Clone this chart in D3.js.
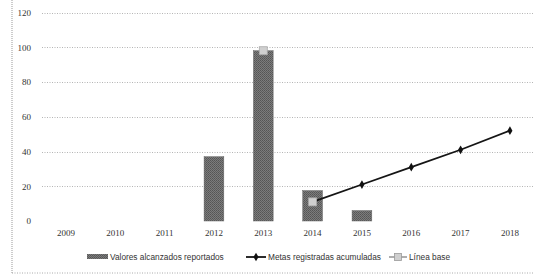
<!DOCTYPE html>
<html>
<head>
<meta charset="utf-8">
<script src="https://cdn.jsdelivr.net/npm/d3@7"></script>
<style>
  body { margin: 0; background: #fff; }
  svg { display: block; }
  .tick-label { font-family: "Liberation Serif", "DejaVu Serif", serif; font-size: 9px; fill: #333; }
  .legend-label { font-family: "Liberation Sans", Arial, sans-serif; font-size: 8.3px; fill: #333; }
</style>
</head>
<body>
<div id="chart"></div>
<script>
// data
var years = ["2009", "2010", "2011", "2012", "2013", "2014", "2015", "2016", "2017", "2018"];
var valoresAlcanzados = [null, null, null, 37, 98, 17.5, 6, null, null, null];
var metasAcumuladas = [null, null, null, null, null, 11, 21, 31, 41, 52];
var lineaBase = [null, null, null, null, 98, 11, null, null, null, null];
var yTicks = [0, 20, 40, 60, 80, 100, 120];
var legendLabels = ["Valores alcanzados reportados", "Metas registradas acumuladas", "Línea base"];

var width = 534, height = 276;

var svg = d3.select("#chart").append("svg")
    .attr("width", width)
    .attr("height", height);

// dithered fill like the scanned bars
var defs = svg.append("defs");
var pat = defs.append("pattern")
    .attr("id", "dither")
    .attr("patternUnits", "userSpaceOnUse")
    .attr("width", 2).attr("height", 2);
pat.append("rect").attr("width", 2).attr("height", 2).attr("fill", "#7c7c7c");
pat.append("rect").attr("width", 1).attr("height", 1).attr("fill", "#555");
pat.append("rect").attr("x", 1).attr("y", 1).attr("width", 1).attr("height", 1).attr("fill", "#5e5e5e");

var x = d3.scaleBand()
    .domain(years)
    .range([41.3, 534.6])
    .paddingInner(0.6)
    .paddingOuter(0.3);

var y = d3.scaleLinear()
    .domain([0, 120])
    .range([221, 12.5]);

var cx = function(i){ return x(years[i]) + x.bandwidth() / 2; };

// outer frame (dotted, left + bottom)
svg.append("line")
    .attr("x1", 12).attr("x2", 12).attr("y1", 0).attr("y2", 273)
    .attr("stroke", "#999").attr("stroke-width", 1).attr("stroke-dasharray", "1,1");
svg.append("line")
    .attr("x1", 12).attr("x2", width).attr("y1", 273).attr("y2", 273)
    .attr("stroke", "#aaa").attr("stroke-width", 1).attr("stroke-dasharray", "1,1.5");

// gridlines
var grid = svg.append("g").attr("class", "grid");
grid.selectAll("line").data(yTicks.filter(function(d){ return d > 0; }))
    .enter().append("line")
    .attr("x1", 42).attr("x2", width)
    .attr("y1", function(d){ return Math.round(y(d)) + 0.5; })
    .attr("y2", function(d){ return Math.round(y(d)) + 0.5; })
    .attr("stroke", "#b5b5b5")
    .attr("stroke-width", 1)
    .attr("stroke-dasharray", "1,1.5");

// y axis labels
var yAxis = svg.append("g")
    .attr("transform", "translate(31,0)")
    .call(d3.axisLeft(y).tickValues(yTicks).tickSize(0).tickPadding(0));
yAxis.select(".domain").remove();
yAxis.selectAll("text").attr("class", "tick-label").attr("font-family", null).attr("font-size", null).attr("fill", null);

// x axis labels
var xAxis = svg.append("g")
    .attr("transform", "translate(0,230)")
    .call(d3.axisBottom(x).tickSize(0).tickPadding(0));
xAxis.select(".domain").remove();
xAxis.selectAll("text").attr("class", "tick-label").attr("font-family", null).attr("font-size", null).attr("fill", null);

// bars
var barData = years.map(function(yr, i){ return {year: yr, value: valoresAlcanzados[i]}; })
    .filter(function(d){ return d.value != null; });
svg.append("g").selectAll("rect").data(barData)
    .enter().append("rect")
    .attr("x", function(d){ return x(d.year); })
    .attr("y", function(d){ return y(d.value); })
    .attr("width", x.bandwidth())
    .attr("height", function(d){ return y(0) - y(d.value); })
    .attr("fill", "url(#dither)")
    .attr("stroke", "#666")
    .attr("stroke-width", 0.5);

// metas line
var metaPts = years.map(function(yr, i){ return {i: i, value: metasAcumuladas[i]}; })
    .filter(function(d){ return d.value != null; });
var line = d3.line()
    .x(function(d){ return cx(d.i); })
    .y(function(d){ return y(d.value); });
svg.append("path")
    .datum(metaPts)
    .attr("d", line)
    .attr("fill", "none")
    .attr("stroke", "#151515")
    .attr("stroke-width", 1.8);
var diamond = d3.symbol().type(d3.symbolDiamond).size(22);
svg.append("g").selectAll("path").data(metaPts.slice(1))
    .enter().append("path")
    .attr("d", diamond)
    .attr("transform", function(d){ return "translate(" + cx(d.i) + "," + y(d.value) + ")"; })
    .attr("fill", "#111");

// linea base markers
var basePts = years.map(function(yr, i){ return {i: i, value: lineaBase[i]}; })
    .filter(function(d){ return d.value != null; });
svg.append("g").selectAll("rect").data(basePts)
    .enter().append("rect")
    .attr("x", function(d){ return cx(d.i) - 4; })
    .attr("y", function(d){ return y(d.value) - 4; })
    .attr("width", 8).attr("height", 8)
    .attr("fill", "#cfcfcf")
    .attr("stroke", "#aaa")
    .attr("stroke-width", 0.8);

// legend
var lg = svg.append("g").attr("transform", "translate(0,257)");
lg.append("rect")
    .attr("x", 87).attr("y", -3).attr("width", 21).attr("height", 5)
    .attr("fill", "url(#dither)");
lg.append("text").attr("class", "legend-label")
    .attr("x", 110).attr("y", 3).text(legendLabels[0]);

lg.append("line")
    .attr("x1", 246).attr("x2", 266).attr("y1", 0).attr("y2", 0)
    .attr("stroke", "#151515").attr("stroke-width", 1.8);
lg.append("path").attr("d", diamond).attr("transform", "translate(256,0)").attr("fill", "#111");
lg.append("text").attr("class", "legend-label")
    .attr("x", 268).attr("y", 3).text(legendLabels[1]);

lg.append("line")
    .attr("x1", 389).attr("x2", 407).attr("y1", 0).attr("y2", 0)
    .attr("stroke", "#777").attr("stroke-width", 1.2);
lg.append("rect")
    .attr("x", 394.5).attr("y", -3.5).attr("width", 7).attr("height", 7)
    .attr("fill", "#cfcfcf").attr("stroke", "#999").attr("stroke-width", 0.8);
lg.append("text").attr("class", "legend-label")
    .attr("x", 409).attr("y", 3).text(legendLabels[2]);
</script>
</body>
</html>
